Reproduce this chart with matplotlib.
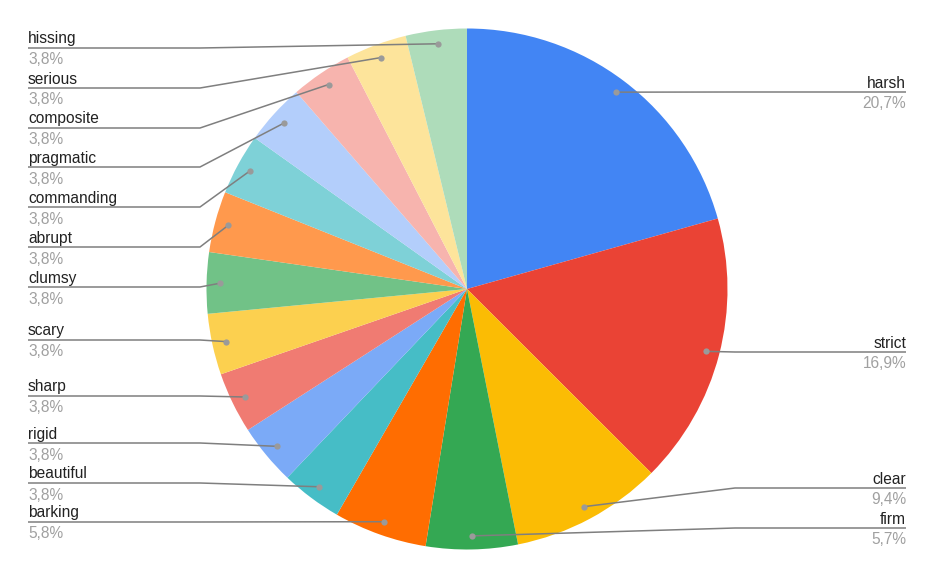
import numpy as np
import matplotlib
matplotlib.use("Agg")
import matplotlib.pyplot as plt

labels = ["harsh", "strict", "clear", "firm", "barking", "beautiful", "rigid",
          "sharp", "scary", "clumsy", "abrupt", "commanding", "pragmatic",
          "composite", "serious", "hissing"]
values = [20.7, 16.9, 9.4, 5.7, 5.8, 3.8, 3.8, 3.8, 3.8, 3.8, 3.8, 3.8, 3.8,
          3.8, 3.8, 3.8]
pct_text = ["20,7%", "16,9%", "9,4%", "5,7%", "5,8%", "3,8%", "3,8%", "3,8%",
            "3,8%", "3,8%", "3,8%", "3,8%", "3,8%", "3,8%", "3,8%", "3,8%"]
colors = ["#4285F4", "#EA4335", "#FBBC04", "#34A853", "#FF6D01", "#46BDC6",
          "#7BAAF7", "#F07B72", "#FCD04F", "#71C287", "#FF994D", "#7ED1D7",
          "#B3CEFB", "#F7B4AE", "#FDE49B", "#AEDCBA"]

# label layout (pixel rows of the leader lines, from top of image)
label_rows = [92, 352, 488, 528, 522, 483, 443, 396, 340, 287, 247, 207,
              167, 128, 88, 48]
label_side = ["R", "R", "R", "R", "L", "L", "L", "L", "L", "L", "L", "L",
              "L", "L", "L", "L"]

W, H = 935, 578
fig = plt.figure(figsize=(W / 100, H / 100), dpi=100)
ax = fig.add_axes([0, 0, 1, 1])

cx, cy, R = 467, H - 289, 260.5
wedges, _ = ax.pie(values, colors=colors, startangle=90, counterclock=False,
                   center=(cx, cy), radius=R, frame=True,
                   wedgeprops=dict(linewidth=0, edgecolor="none"))
ax.set_xlim(0, W)
ax.set_ylim(0, H)
ax.set_aspect("equal")
ax.axis("off")

font = "Liberation Sans"
fs = 11.2
line_col = "#7f7f7f"
dot_col = "#9a9a9a"
for w, lab, pt, row, side in zip(wedges, labels, pct_text, label_rows, label_side):
    mid = np.deg2rad((w.theta1 + w.theta2) / 2)
    dx = cx + 0.948 * R * np.cos(mid)
    dy = cy + 0.948 * R * np.sin(mid)
    ly = H - row
    if side == "R":
        xs = [dx, 735, 906]
        tx, ha = 906, "right"
    else:
        xs = [dx, 200, 28]
        tx, ha = 28, "left"
    ax.plot(xs, [dy, ly, ly], color=line_col, lw=1.1, solid_capstyle="butt", zorder=3)
    ax.plot([dx], [dy], "o", color=dot_col, ms=4.5, mew=0, zorder=4)
    ax.text(tx, ly + 4.5, lab, ha=ha, va="baseline", fontsize=fs,
            family=font, color="#222222")
    ax.text(tx, ly - 16.5, pt, ha=ha, va="baseline", fontsize=fs,
            family=font, color="#a0a0a0")

fig.savefig("out.png", dpi=100)
